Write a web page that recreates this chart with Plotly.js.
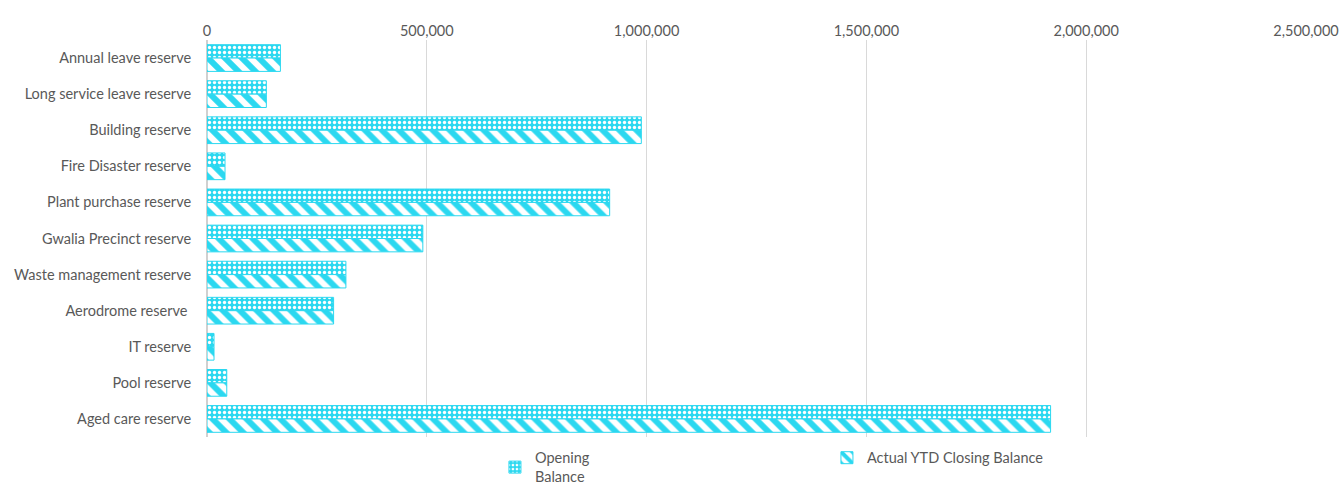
<!DOCTYPE html>
<html>
<head>
<meta charset="utf-8">
<script src="https://cdn.plot.ly/plotly-3.0.1.min.js"></script>
<style>html,body{margin:0;padding:0;background:#fff;}#chart{width:1340px;height:488px;}</style>
</head>
<body>
<div id="chart"></div>
<script>
const categories = [
  "Annual leave reserve",
  "Long service leave reserve",
  "Building reserve",
  "Fire Disaster reserve",
  "Plant purchase reserve",
  "Gwalia Precinct reserve",
  "Waste management reserve",
  "Aerodrome reserve ",
  "IT reserve",
  "Pool reserve",
  "Aged care reserve"
];
const openingBalance = [167000, 135000, 988000, 41000, 916000, 491000, 316000, 288000, 16000, 45000, 1919000];
const closingBalance = [167000, 135000, 988000, 41000, 916000, 491000, 316000, 288000, 16000, 45000, 1919000];
const xTickValues = [0, 500000, 1000000, 1500000, 2000000, 2500000];

const cyan = '#2bd8f0';
const font = {family: 'Lato, "Open Sans", sans-serif', size: 14.5, color: '#595959'};

const traces = [
  {
    type: 'bar', orientation: 'h', name: 'Opening<br>Balance',
    y: categories, x: openingBalance,
    marker: {color: cyan, line: {color: cyan, width: 1},
      pattern: {shape: '.', bgcolor: cyan, fgcolor: '#ffffff', size: 5, solidity: 0.35, fillmode: 'replace'}},
    hoverinfo: 'x+y'
  },
  {
    type: 'bar', orientation: 'h', name: 'Actual YTD Closing Balance',
    y: categories, x: closingBalance,
    marker: {color: '#ffffff', line: {color: cyan, width: 1},
      pattern: {shape: '\\', bgcolor: '#ffffff', fgcolor: cyan, size: 12, solidity: 0.5, fillmode: 'replace'}},
    hoverinfo: 'x+y'
  }
];

const layout = {
  width: 1340, height: 488,
  margin: {l: 207, r: 34, t: 40, b: 51, pad: 0, autoexpand: false},
  paper_bgcolor: '#ffffff', plot_bgcolor: '#ffffff',
  font: font,
  barmode: 'group', bargap: 0.26, bargroupgap: 0,
  xaxis: {
    side: 'top', range: [0, 2500000], tickvals: xTickValues, tickformat: ',',
    showgrid: true, gridcolor: '#d9d9d9', gridwidth: 1,
    zeroline: true, zerolinecolor: '#d0d0d0', zerolinewidth: 2,
    showline: false, ticks: '', tickfont: font, fixedrange: true
  },
  yaxis: {
    autorange: 'reversed', showgrid: false, zeroline: false, showline: false,
    ticks: 'outside', ticklen: 12, tickcolor: 'rgba(0,0,0,0)', tickfont: font
  },
  showlegend: true,
  legend: {
    orientation: 'h', x: 0.262, xanchor: 'left', y: -0.012, yanchor: 'top',
    entrywidth: 287, entrywidthmode: 'pixels',
    font: {family: font.family, size: 14.5, color: '#595959'},
    itemwidth: 30, tracegroupgap: 0, bgcolor: 'rgba(0,0,0,0)'
  }
};

Plotly.newPlot('chart', traces, layout, {displayModeBar: false, staticPlot: true});
</script>
</body>
</html>
